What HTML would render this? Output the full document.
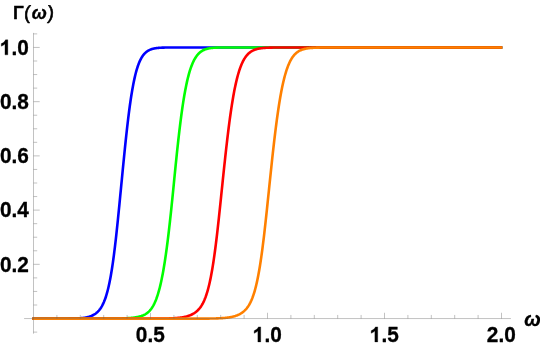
<!DOCTYPE html>
<html><head><meta charset="utf-8"><title>plot</title>
<style>
html,body{margin:0;padding:0;background:#fff;}
body{width:540px;height:347px;overflow:hidden;}
svg{display:block;will-change:transform;}
text{font-family:"Liberation Sans",sans-serif;font-weight:bold;fill:#000;stroke:#000;stroke-width:0.3px;stroke-linejoin:round;}
.d{font-size:20.8px;}
.g{fill:#000;stroke:#000;stroke-width:29.5;stroke-linejoin:round;}
.gk{font-size:18px;}
.pr{font-size:19px;font-weight:normal;stroke-width:0.6px;}
.it{font-style:italic;font-size:18px;}
</style></head><body>
<svg width="540" height="347" viewBox="0 0 540 347">
<rect width="540" height="347" fill="#fff"/>
<g fill="none" stroke-width="2.6" stroke-linejoin="round" stroke-linecap="butt">
<path d="M32.3,318.70 L67.3,318.68 L67.8,318.68 L68.3,318.68 L68.8,318.67 L69.3,318.67 L69.8,318.66 L70.3,318.65 L70.8,318.65 L71.3,318.64 L71.8,318.63 L72.3,318.62 L72.8,318.61 L73.3,318.60 L73.8,318.59 L74.3,318.57 L74.8,318.56 L75.3,318.54 L75.8,318.52 L76.3,318.50 L76.8,318.47 L77.3,318.45 L77.8,318.42 L78.3,318.39 L78.8,318.36 L79.3,318.32 L79.8,318.28 L80.3,318.24 L80.8,318.20 L81.3,318.15 L81.8,318.10 L82.3,318.04 L82.8,317.98 L83.3,317.92 L83.8,317.85 L84.3,317.77 L84.8,317.69 L85.3,317.61 L85.8,317.51 L86.3,317.42 L86.8,317.31 L87.3,317.20 L87.8,317.07 L88.3,316.94 L88.8,316.81 L89.3,316.66 L89.8,316.50 L90.3,316.33 L90.8,316.14 L91.3,315.95 L91.8,315.74 L92.3,315.51 L92.8,315.27 L93.3,315.02 L93.8,314.74 L94.3,314.44 L94.8,314.13 L95.3,313.79 L95.8,313.43 L96.3,313.04 L96.8,312.62 L97.3,312.17 L97.8,311.69 L98.3,311.17 L98.8,310.62 L99.3,310.02 L99.8,309.39 L100.3,308.70 L100.8,307.97 L101.3,307.18 L101.8,306.34 L102.3,305.43 L102.8,304.46 L103.3,303.42 L103.8,302.30 L104.3,301.11 L104.8,299.82 L105.3,298.45 L105.8,296.98 L106.3,295.41 L106.8,293.73 L107.3,291.94 L107.8,290.03 L108.3,287.99 L108.8,285.82 L109.3,283.52 L109.8,281.07 L110.3,278.47 L110.8,275.72 L111.3,272.81 L111.8,269.74 L112.3,266.51 L112.8,263.11 L113.3,259.55 L113.8,255.82 L114.3,251.93 L114.8,247.88 L115.3,243.68 L115.8,239.32 L116.3,234.83 L116.8,230.20 L117.3,225.45 L117.8,220.60 L118.3,215.65 L118.8,210.62 L119.3,205.53 L119.8,200.40 L120.3,195.23 L120.8,190.06 L121.3,184.90 L121.8,179.76 L122.3,174.61 L122.8,169.48 L123.3,164.38 L123.8,159.31 L124.3,154.31 L124.8,149.36 L125.3,144.50 L125.8,139.74 L126.3,135.07 L126.8,130.52 L127.3,126.09 L127.8,121.80 L128.3,117.64 L128.8,113.62 L129.3,109.75 L129.8,106.03 L130.3,102.46 L130.8,99.04 L131.3,95.78 L131.8,92.67 L132.3,89.72 L132.8,86.91 L133.3,84.25 L133.8,81.74 L134.3,79.36 L134.8,77.13 L135.3,75.02 L135.8,73.04 L136.3,71.18 L136.8,69.44 L137.3,67.80 L137.8,66.28 L138.3,64.85 L138.8,63.52 L139.3,62.29 L139.8,61.13 L140.3,60.06 L140.8,59.07 L141.3,58.14 L141.8,57.29 L142.3,56.49 L142.8,55.76 L143.3,55.08 L143.8,54.45 L144.3,53.87 L144.8,53.33 L145.3,52.84 L145.8,52.38 L146.3,51.96 L146.8,51.58 L147.3,51.22 L147.8,50.90 L148.3,50.60 L148.8,50.32 L149.3,50.07 L149.8,49.84 L150.3,49.62 L150.8,49.43 L151.3,49.25 L151.8,49.09 L152.3,48.94 L152.8,48.80 L153.3,48.68 L153.8,48.57 L154.3,48.46 L154.8,48.37 L155.3,48.28 L155.8,48.20 L156.3,48.13 L156.8,48.07 L157.3,48.01 L157.8,47.95 L158.3,47.91 L158.8,47.86 L159.3,47.82 L159.8,47.78 L160.3,47.75 L160.8,47.72 L161.3,47.69 L161.8,47.67 L162.3,47.65 L162.8,47.63 L163.3,47.61 L163.8,47.59 L164.3,47.58 L164.8,47.56 L165.3,47.55 L165.8,47.54 L166.3,47.53 L166.8,47.52 L167.3,47.52 L167.8,47.51 L168.3,47.50 L168.8,47.50 L169.3,47.49 L169.8,47.49 L170.3,47.48 L170.8,47.48 L171.3,47.48 L502.3,47.45" stroke="#0000ff"/>
<path d="M32.3,318.70 L107.8,318.65 L108.3,318.65 L108.8,318.65 L109.3,318.64 L109.8,318.64 L110.3,318.63 L110.8,318.63 L111.3,318.63 L111.8,318.62 L112.3,318.62 L112.8,318.61 L113.3,318.61 L113.8,318.60 L114.3,318.59 L114.8,318.59 L115.3,318.58 L115.8,318.57 L116.3,318.57 L116.8,318.56 L117.3,318.55 L117.8,318.54 L118.3,318.53 L118.8,318.52 L119.3,318.51 L119.8,318.50 L120.3,318.48 L120.8,318.47 L121.3,318.45 L121.8,318.44 L122.3,318.42 L122.8,318.41 L123.3,318.39 L123.8,318.37 L124.3,318.35 L124.8,318.33 L125.3,318.30 L125.8,318.28 L126.3,318.25 L126.8,318.23 L127.3,318.20 L127.8,318.17 L128.3,318.13 L128.8,318.10 L129.3,318.06 L129.8,318.02 L130.3,317.98 L130.8,317.93 L131.3,317.89 L131.8,317.84 L132.3,317.78 L132.8,317.73 L133.3,317.67 L133.8,317.60 L134.3,317.54 L134.8,317.46 L135.3,317.39 L135.8,317.31 L136.3,317.22 L136.8,317.13 L137.3,317.04 L137.8,316.93 L138.3,316.82 L138.8,316.71 L139.3,316.59 L139.8,316.46 L140.3,316.32 L140.8,316.17 L141.3,316.02 L141.8,315.85 L142.3,315.67 L142.8,315.48 L143.3,315.27 L143.8,315.04 L144.3,314.80 L144.8,314.54 L145.3,314.26 L145.8,313.95 L146.3,313.63 L146.8,313.28 L147.3,312.90 L147.8,312.49 L148.3,312.06 L148.8,311.59 L149.3,311.09 L149.8,310.55 L150.3,309.97 L150.8,309.35 L151.3,308.69 L151.8,307.97 L152.3,307.21 L152.8,306.40 L153.3,305.53 L153.8,304.60 L154.3,303.60 L154.8,302.54 L155.3,301.41 L155.8,300.21 L156.3,298.93 L156.8,297.56 L157.3,296.12 L157.8,294.58 L158.3,292.95 L158.8,291.22 L159.3,289.39 L159.8,287.46 L160.3,285.41 L160.8,283.26 L161.3,280.99 L161.8,278.60 L162.3,276.08 L162.8,273.45 L163.3,270.68 L163.8,267.78 L164.3,264.75 L164.8,261.59 L165.3,258.30 L165.8,254.87 L166.3,251.30 L166.8,247.61 L167.3,243.78 L167.8,239.82 L168.3,235.73 L168.8,231.52 L169.3,227.20 L169.8,222.76 L170.3,218.21 L170.8,213.56 L171.3,208.82 L171.8,203.99 L172.3,199.09 L172.8,194.12 L173.3,189.10 L173.8,184.04 L174.3,178.95 L174.8,173.89 L175.3,168.88 L175.8,163.91 L176.3,159.01 L176.8,154.18 L177.3,149.44 L177.8,144.79 L178.3,140.24 L178.8,135.81 L179.3,131.49 L179.8,127.30 L180.3,123.23 L180.8,119.29 L181.3,115.49 L181.8,111.82 L182.3,108.29 L182.8,104.90 L183.3,101.65 L183.8,98.54 L184.3,95.56 L184.8,92.71 L185.3,90.00 L185.8,87.42 L186.3,84.96 L186.8,82.62 L187.3,80.41 L187.8,78.31 L188.3,76.32 L188.8,74.44 L189.3,72.66 L189.8,70.98 L190.3,69.40 L190.8,67.91 L191.3,66.51 L191.8,65.19 L192.3,63.95 L192.8,62.78 L193.3,61.69 L193.8,60.66 L194.3,59.70 L194.8,58.81 L195.3,57.97 L195.8,57.18 L196.3,56.45 L196.8,55.76 L197.3,55.12 L197.8,54.53 L198.3,53.97 L198.8,53.46 L199.3,52.98 L199.8,52.53 L200.3,52.12 L200.8,51.74 L201.3,51.38 L201.8,51.05 L202.3,50.75 L202.8,50.47 L203.3,50.21 L203.8,49.97 L204.3,49.75 L204.8,49.54 L205.3,49.35 L205.8,49.18 L206.3,49.02 L206.8,48.88 L207.3,48.74 L207.8,48.62 L208.3,48.51 L208.8,48.41 L209.3,48.31 L209.8,48.23 L210.3,48.15 L210.8,48.08 L211.3,48.01 L211.8,47.96 L212.3,47.90 L212.8,47.86 L213.3,47.81 L213.8,47.77 L214.3,47.74 L214.8,47.71 L215.3,47.68 L215.8,47.65 L216.3,47.63 L216.8,47.61 L217.3,47.59 L217.8,47.57 L218.3,47.56 L218.8,47.54 L219.3,47.53 L219.8,47.52 L220.3,47.51 L220.8,47.51 L221.3,47.50 L221.8,47.49 L222.3,47.49 L222.8,47.48 L223.3,47.48 L223.8,47.47 L224.3,47.47 L502.3,47.45" stroke="#00ff00"/>
<path d="M32.3,318.70 L154.8,318.65 L155.3,318.65 L155.8,318.64 L156.3,318.64 L156.8,318.64 L157.3,318.63 L157.8,318.63 L158.3,318.62 L158.8,318.62 L159.3,318.61 L159.8,318.61 L160.3,318.60 L160.8,318.60 L161.3,318.59 L161.8,318.58 L162.3,318.58 L162.8,318.57 L163.3,318.56 L163.8,318.55 L164.3,318.54 L164.8,318.53 L165.3,318.52 L165.8,318.51 L166.3,318.50 L166.8,318.49 L167.3,318.48 L167.8,318.46 L168.3,318.45 L168.8,318.43 L169.3,318.41 L169.8,318.40 L170.3,318.38 L170.8,318.36 L171.3,318.34 L171.8,318.32 L172.3,318.29 L172.8,318.27 L173.3,318.24 L173.8,318.21 L174.3,318.18 L174.8,318.15 L175.3,318.12 L175.8,318.08 L176.3,318.04 L176.8,318.00 L177.3,317.96 L177.8,317.91 L178.3,317.86 L178.8,317.81 L179.3,317.76 L179.8,317.70 L180.3,317.64 L180.8,317.57 L181.3,317.50 L181.8,317.43 L182.3,317.35 L182.8,317.27 L183.3,317.18 L183.8,317.08 L184.3,316.98 L184.8,316.88 L185.3,316.77 L185.8,316.65 L186.3,316.52 L186.8,316.39 L187.3,316.25 L187.8,316.10 L188.3,315.94 L188.8,315.77 L189.3,315.59 L189.8,315.40 L190.3,315.20 L190.8,314.99 L191.3,314.76 L191.8,314.52 L192.3,314.27 L192.8,314.00 L193.3,313.71 L193.8,313.41 L194.3,313.09 L194.8,312.75 L195.3,312.39 L195.8,312.01 L196.3,311.61 L196.8,311.18 L197.3,310.73 L197.8,310.25 L198.3,309.74 L198.8,309.21 L199.3,308.64 L199.8,308.03 L200.3,307.38 L200.8,306.68 L201.3,305.93 L201.8,305.13 L202.3,304.28 L202.8,303.37 L203.3,302.39 L203.8,301.35 L204.3,300.24 L204.8,299.05 L205.3,297.79 L205.8,296.44 L206.3,294.99 L206.8,293.46 L207.3,291.82 L207.8,290.08 L208.3,288.23 L208.8,286.27 L209.3,284.18 L209.8,281.97 L210.3,279.63 L210.8,277.16 L211.3,274.55 L211.8,271.80 L212.3,268.91 L212.8,265.87 L213.3,262.69 L213.8,259.35 L214.3,255.87 L214.8,252.25 L215.3,248.48 L215.8,244.57 L216.3,240.53 L216.8,236.36 L217.3,232.07 L217.8,227.67 L218.3,223.17 L218.8,218.58 L219.3,213.91 L219.8,209.17 L220.3,204.39 L220.8,199.57 L221.3,194.73 L221.8,189.88 L222.3,185.04 L222.8,180.23 L223.3,175.43 L223.8,170.67 L224.3,165.95 L224.8,161.28 L225.3,156.67 L225.8,152.13 L226.3,147.66 L226.8,143.28 L227.3,138.99 L227.8,134.80 L228.3,130.72 L228.8,126.74 L229.3,122.87 L229.8,119.12 L230.3,115.49 L230.8,111.98 L231.3,108.59 L231.8,105.33 L232.3,102.19 L232.8,99.17 L233.3,96.28 L233.8,93.51 L234.3,90.86 L234.8,88.33 L235.3,85.92 L235.8,83.62 L236.3,81.43 L236.8,79.35 L237.3,77.38 L237.8,75.51 L238.3,73.74 L238.8,72.06 L239.3,70.48 L239.8,68.98 L240.3,67.57 L240.8,66.24 L241.3,64.98 L241.8,63.80 L242.3,62.69 L242.8,61.65 L243.3,60.68 L243.8,59.76 L244.3,58.90 L244.8,58.10 L245.3,57.34 L245.8,56.64 L246.3,55.98 L246.8,55.37 L247.3,54.79 L247.8,54.26 L248.3,53.76 L248.8,53.30 L249.3,52.86 L249.8,52.46 L250.3,52.09 L250.8,51.74 L251.3,51.42 L251.8,51.12 L252.3,50.84 L252.8,50.58 L253.3,50.34 L253.8,50.12 L254.3,49.91 L254.8,49.72 L255.3,49.55 L255.8,49.39 L256.3,49.23 L256.8,49.10 L257.3,48.97 L257.8,48.85 L258.3,48.74 L258.8,48.64 L259.3,48.54 L259.8,48.46 L260.3,48.38 L260.8,48.30 L261.3,48.24 L261.8,48.17 L262.3,48.12 L262.8,48.06 L263.3,48.01 L263.8,47.97 L264.3,47.93 L264.8,47.89 L265.3,47.86 L265.8,47.82 L266.3,47.79 L266.8,47.77 L267.3,47.74 L267.8,47.72 L268.3,47.70 L268.8,47.68 L269.3,47.66 L269.8,47.64 L270.3,47.63 L270.8,47.62 L271.3,47.60 L271.8,47.59 L272.3,47.58 L272.8,47.57 L273.3,47.56 L273.8,47.55 L274.3,47.55 L274.8,47.54 L275.3,47.53 L275.8,47.53 L276.3,47.52 L276.8,47.51 L277.3,47.51 L277.8,47.51 L278.3,47.50 L278.8,47.50 L279.3,47.50 L279.8,47.49 L502.3,47.45" stroke="#ff0000"/>
<path d="M32.3,318.70 L201.8,318.65 L202.3,318.65 L202.8,318.64 L203.3,318.64 L203.8,318.64 L204.3,318.63 L204.8,318.63 L205.3,318.63 L205.8,318.62 L206.3,318.62 L206.8,318.61 L207.3,318.60 L207.8,318.60 L208.3,318.59 L208.8,318.59 L209.3,318.58 L209.8,318.57 L210.3,318.56 L210.8,318.56 L211.3,318.55 L211.8,318.54 L212.3,318.53 L212.8,318.52 L213.3,318.50 L213.8,318.49 L214.3,318.48 L214.8,318.47 L215.3,318.45 L215.8,318.44 L216.3,318.42 L216.8,318.40 L217.3,318.38 L217.8,318.36 L218.3,318.34 L218.8,318.32 L219.3,318.30 L219.8,318.27 L220.3,318.25 L220.8,318.22 L221.3,318.19 L221.8,318.16 L222.3,318.12 L222.8,318.09 L223.3,318.05 L223.8,318.01 L224.3,317.97 L224.8,317.92 L225.3,317.88 L225.8,317.83 L226.3,317.77 L226.8,317.71 L227.3,317.65 L227.8,317.59 L228.3,317.52 L228.8,317.45 L229.3,317.37 L229.8,317.29 L230.3,317.20 L230.8,317.11 L231.3,317.01 L231.8,316.91 L232.3,316.80 L232.8,316.68 L233.3,316.56 L233.8,316.43 L234.3,316.29 L234.8,316.14 L235.3,315.99 L235.8,315.82 L236.3,315.64 L236.8,315.46 L237.3,315.26 L237.8,315.05 L238.3,314.83 L238.8,314.59 L239.3,314.34 L239.8,314.07 L240.3,313.79 L240.8,313.50 L241.3,313.18 L241.8,312.85 L242.3,312.49 L242.8,312.12 L243.3,311.72 L243.8,311.30 L244.3,310.86 L244.8,310.39 L245.3,309.89 L245.8,309.37 L246.3,308.81 L246.8,308.21 L247.3,307.57 L247.8,306.88 L248.3,306.15 L248.8,305.37 L249.3,304.53 L249.8,303.63 L250.3,302.68 L250.8,301.66 L251.3,300.57 L251.8,299.40 L252.3,298.16 L252.8,296.83 L253.3,295.41 L253.8,293.91 L254.3,292.30 L254.8,290.59 L255.3,288.77 L255.8,286.84 L256.3,284.79 L256.8,282.62 L257.3,280.31 L257.8,277.88 L258.3,275.31 L258.8,272.60 L259.3,269.75 L259.8,266.75 L260.3,263.61 L260.8,260.32 L261.3,256.88 L261.8,253.29 L262.3,249.56 L262.8,245.70 L263.3,241.69 L263.8,237.56 L264.3,233.30 L264.8,228.93 L265.3,224.46 L265.8,219.89 L266.3,215.24 L266.8,210.53 L267.3,205.76 L267.8,200.95 L268.3,196.11 L268.8,191.26 L269.3,186.42 L269.8,181.60 L270.3,176.80 L270.8,172.02 L271.3,167.29 L271.8,162.60 L272.3,157.97 L272.8,153.41 L273.3,148.92 L273.8,144.52 L274.3,140.20 L274.8,135.98 L275.3,131.87 L275.8,127.86 L276.3,123.96 L276.8,120.18 L277.3,116.51 L277.8,112.97 L278.3,109.54 L278.8,106.25 L279.3,103.07 L279.8,100.02 L280.3,97.09 L280.8,94.29 L281.3,91.61 L281.8,89.04 L282.3,86.60 L282.8,84.26 L283.3,82.05 L283.8,79.94 L284.3,77.93 L284.8,76.03 L285.3,74.23 L285.8,72.53 L286.3,70.92 L286.8,69.40 L287.3,67.96 L287.8,66.61 L288.3,65.33 L288.8,64.13 L289.3,63.00 L289.8,61.94 L290.3,60.95 L290.8,60.01 L291.3,59.14 L291.8,58.32 L292.3,57.55 L292.8,56.83 L293.3,56.16 L293.8,55.54 L294.3,54.95 L294.8,54.41 L295.3,53.90 L295.8,53.43 L296.3,52.98 L296.8,52.57 L297.3,52.19 L297.8,51.84 L298.3,51.51 L298.8,51.20 L299.3,50.92 L299.8,50.65 L300.3,50.41 L300.8,50.18 L301.3,49.97 L301.8,49.78 L302.3,49.60 L302.8,49.43 L303.3,49.28 L303.8,49.13 L304.3,49.00 L304.8,48.88 L305.3,48.77 L305.8,48.66 L306.3,48.57 L306.8,48.48 L307.3,48.40 L307.8,48.32 L308.3,48.25 L308.8,48.19 L309.3,48.13 L309.8,48.08 L310.3,48.03 L310.8,47.98 L311.3,47.94 L311.8,47.90 L312.3,47.87 L312.8,47.83 L313.3,47.80 L313.8,47.77 L314.3,47.75 L314.8,47.73 L315.3,47.70 L315.8,47.68 L316.3,47.67 L316.8,47.65 L317.3,47.63 L317.8,47.62 L318.3,47.61 L318.8,47.59 L319.3,47.58 L319.8,47.57 L320.3,47.56 L320.8,47.56 L321.3,47.55 L321.8,47.54 L322.3,47.53 L322.8,47.53 L323.3,47.52 L323.8,47.52 L324.3,47.51 L324.8,47.51 L325.3,47.50 L325.8,47.50 L326.3,47.50 L326.8,47.49 L502.3,47.45" stroke="#ff8000"/>
</g>
<g stroke="#666666" stroke-width="0.4" fill="none">
<line x1="33.50" y1="32.90" x2="33.50" y2="333.70"/><line x1="24.10" y1="318.55" x2="510.90" y2="318.55"/><line x1="33.50" y1="332.11" x2="37.20" y2="332.11"/><line x1="33.50" y1="305.00" x2="37.20" y2="305.00"/><line x1="33.50" y1="291.44" x2="37.20" y2="291.44"/><line x1="33.50" y1="277.88" x2="37.20" y2="277.88"/><line x1="33.50" y1="264.33" x2="39.70" y2="264.33"/><line x1="33.50" y1="250.78" x2="37.20" y2="250.78"/><line x1="33.50" y1="237.22" x2="37.20" y2="237.22"/><line x1="33.50" y1="223.66" x2="37.20" y2="223.66"/><line x1="33.50" y1="210.11" x2="39.70" y2="210.11"/><line x1="33.50" y1="196.56" x2="37.20" y2="196.56"/><line x1="33.50" y1="183.00" x2="37.20" y2="183.00"/><line x1="33.50" y1="169.44" x2="37.20" y2="169.44"/><line x1="33.50" y1="155.89" x2="39.70" y2="155.89"/><line x1="33.50" y1="142.33" x2="37.20" y2="142.33"/><line x1="33.50" y1="128.78" x2="37.20" y2="128.78"/><line x1="33.50" y1="115.22" x2="37.20" y2="115.22"/><line x1="33.50" y1="101.67" x2="39.70" y2="101.67"/><line x1="33.50" y1="88.11" x2="37.20" y2="88.11"/><line x1="33.50" y1="74.56" x2="37.20" y2="74.56"/><line x1="33.50" y1="61.00" x2="37.20" y2="61.00"/><line x1="33.50" y1="47.45" x2="39.70" y2="47.45"/><line x1="33.50" y1="33.89" x2="37.20" y2="33.89"/><line x1="56.90" y1="318.55" x2="56.90" y2="314.95"/><line x1="80.30" y1="318.55" x2="80.30" y2="314.95"/><line x1="103.70" y1="318.55" x2="103.70" y2="314.95"/><line x1="127.10" y1="318.55" x2="127.10" y2="314.95"/><line x1="150.50" y1="318.55" x2="150.50" y2="312.75"/><line x1="173.90" y1="318.55" x2="173.90" y2="314.95"/><line x1="197.30" y1="318.55" x2="197.30" y2="314.95"/><line x1="220.70" y1="318.55" x2="220.70" y2="314.95"/><line x1="244.10" y1="318.55" x2="244.10" y2="314.95"/><line x1="267.50" y1="318.55" x2="267.50" y2="312.75"/><line x1="290.90" y1="318.55" x2="290.90" y2="314.95"/><line x1="314.30" y1="318.55" x2="314.30" y2="314.95"/><line x1="337.70" y1="318.55" x2="337.70" y2="314.95"/><line x1="361.10" y1="318.55" x2="361.10" y2="314.95"/><line x1="384.50" y1="318.55" x2="384.50" y2="312.75"/><line x1="407.90" y1="318.55" x2="407.90" y2="314.95"/><line x1="431.30" y1="318.55" x2="431.30" y2="314.95"/><line x1="454.70" y1="318.55" x2="454.70" y2="314.95"/><line x1="478.10" y1="318.55" x2="478.10" y2="314.95"/><line x1="501.50" y1="318.55" x2="501.50" y2="312.75"/>
</g>
<g>
<path class="g" transform="translate(-0.36,54.85) scale(0.010156,-0.010204)" d="M806 0H525V1059Q371 915 162 846V1101Q272 1137 401 1237.5Q530 1338 578 1472H806Z"/><text class="d" transform="translate(11.50,54.85) scale(1,1.05)">.0</text><text class="d" transform="translate(-0.06,109.06) scale(1,1.05)">0.8</text><text class="d" transform="translate(-0.06,163.27) scale(1,1.05)">0.6</text><text class="d" transform="translate(-0.06,217.48) scale(1,1.05)">0.4</text><text class="d" transform="translate(-0.06,271.69) scale(1,1.05)">0.2</text><text class="d" transform="translate(135.84,341.90) scale(1,1.05)">0.5</text><path class="g" transform="translate(252.54,341.90) scale(0.010156,-0.010204)" d="M806 0H525V1059Q371 915 162 846V1101Q272 1137 401 1237.5Q530 1338 578 1472H806Z"/><text class="d" transform="translate(264.41,341.90) scale(1,1.05)">.0</text><path class="g" transform="translate(369.54,341.90) scale(0.010156,-0.010204)" d="M806 0H525V1059Q371 915 162 846V1101Q272 1137 401 1237.5Q530 1338 578 1472H806Z"/><text class="d" transform="translate(381.41,341.90) scale(1,1.05)">.5</text><text class="d" transform="translate(486.84,341.90) scale(1,1.05)">2.0</text>
<text class="gk" transform="translate(12.9,18.6) scale(1,1.06)">Γ</text>
<text class="pr" transform="translate(23.75,18.55) skewX(-4)">(</text>
<text class="it" x="31.65" y="18.5">ω</text>
<text class="pr" transform="translate(47.35,18.55) skewX(-4)">)</text>
<text class="it" style="font-size:19.8px" transform="translate(524.3,325.6) scale(1,1)">ω</text>
</g>
</svg>
</body></html>
